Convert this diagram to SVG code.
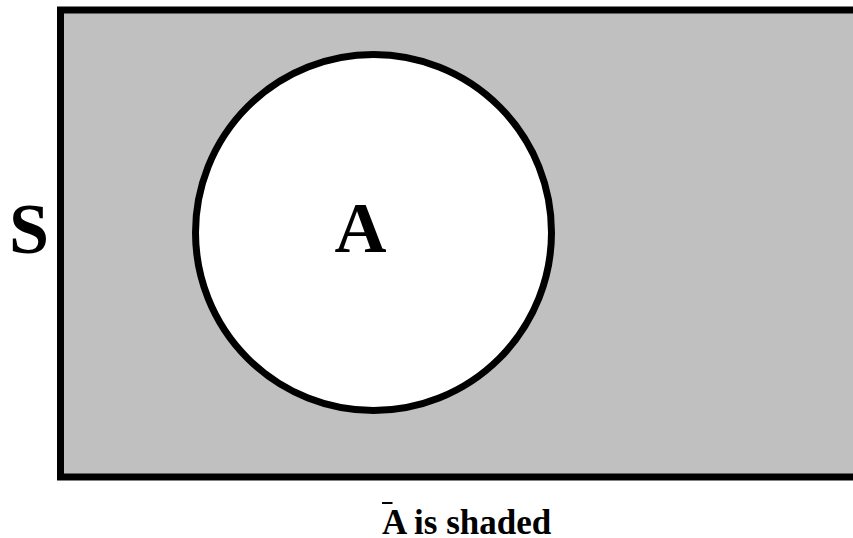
<svg xmlns="http://www.w3.org/2000/svg" width="853" height="538" viewBox="0 0 853 538">
<style>
text{font-family:'Liberation Serif','Times New Roman',Times,serif;font-weight:700;fill:#000}
</style>
<rect width="853" height="538" fill="#fff"/>
<g id="S">
<rect x="60.5" y="10" width="820" height="467" fill="#c0c0c0" stroke="#000" stroke-width="7"/>
<text x="9" y="253" font-size="72" font-family="Liberation Serif">S</text>
</g>
<g id="A">
<circle cx="373.5" cy="232.5" r="178" fill="#fff" stroke="#000" stroke-width="7"/>
<text x="360.5" y="252" font-size="72" text-anchor="middle" font-family="Liberation Serif">A</text>
</g>
<g id="connectors"></g>
<g id="caption">
<rect x="382" y="502" width="10.5" height="2" fill="#000"/>
<text x="382" y="534" font-size="35" font-family="Liberation Serif">A is shaded</text>
</g>
</svg>
